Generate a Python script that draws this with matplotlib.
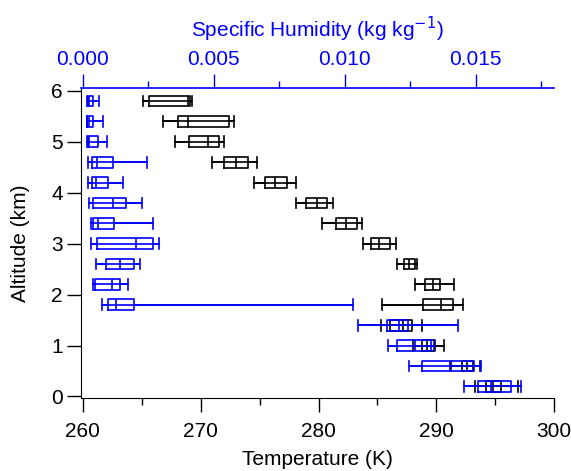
import matplotlib
matplotlib.use("Agg")
import matplotlib.pyplot as plt

plt.rcParams['font.family'] = ['Liberation Sans', 'DejaVu Sans']

altitude = [0.2, 0.6, 1.0, 1.4, 1.8, 2.2, 2.6, 3.0, 3.4, 3.8, 4.2, 4.6, 5.0, 5.4, 5.8]

# Temperature (K) box statistics per altitude
t_min = [293.3, 291.2, 288.0, 285.30, 285.36, 288.18, 286.63, 283.80, 280.3, 278.1, 274.55, 270.94, 267.83, 266.84, 265.14]
t_q1  = [294.2, 292.15, 288.75, 286.06, 288.89, 289.03, 287.25, 284.43, 281.5, 278.9, 275.46, 272.01, 269.02, 268.11, 265.65]
t_med = [294.8, 292.6, 289.2, 287.14, 290.36, 289.69, 287.70, 285.16, 282.3, 279.9, 276.31, 273.00, 270.65, 268.91, 268.96]
t_q3  = [295.5, 293.13, 289.88, 287.96, 291.43, 290.31, 288.18, 286.06, 283.3, 280.7, 277.30, 274.05, 271.59, 272.41, 269.10]
t_max = [296.9, 293.70, 290.67, 288.75, 292.23, 291.52, 288.33, 286.57, 283.7, 281.2, 278.09, 274.76, 271.98, 272.86, 269.25]

# Specific humidity (kg/kg) box statistics per altitude
q_min = [0.01457, 0.01247, 0.01167, 0.01052, 0.00073, 0.00038, 0.00050, 0.00031, 0.00031, 0.00023, 0.00021, 0.00021, 0.000176, 0.000176, 0.000153]
q_q1  = [0.01507, 0.01296, 0.01200, 0.01162, 0.00098, 0.00047, 0.00088, 0.00054, 0.00041, 0.00041, 0.000345, 0.000345, 0.00019, 0.00018, 0.000184]
q_med = [0.01558, 0.01400, 0.01267, 0.01209, 0.00126, 0.00111, 0.00143, 0.00204, 0.00060, 0.00115, 0.00051, 0.00056, 0.00025, 0.00025, 0.000253]
q_q3  = [0.01634, 0.01495, 0.01331, 0.01241, 0.00197, 0.00143, 0.00197, 0.00268, 0.00120, 0.00165, 0.00098, 0.00117, 0.00060, 0.00041, 0.000395]
q_max = [0.01673, 0.01522, 0.01340, 0.01433, 0.01030, 0.00171, 0.00220, 0.00292, 0.00267, 0.00226, 0.00152, 0.00247, 0.00092, 0.00079, 0.000636]

x_ticks = [260, 270, 280, 290, 300]
x_minor = [265, 275, 285, 295]
q_ticks = [0.000, 0.005, 0.010, 0.015]
q_tick_labels = ["0.000", "0.005", "0.010", "0.015"]
q_minor = [0.0025, 0.0075, 0.0125, 0.0175]
y_ticks = [0, 1, 2, 3, 4, 5, 6]

BLUE = "#0000ff"
W = 0.21
LW = 1.2
FS = 15

fig = plt.figure(figsize=(5.71, 4.71), dpi=100)
ax = fig.add_axes([80.7/571, 1-398/471, (554.3-80.7)/571, (398-88.3)/471])

xmin_t = 259.83
ax.set_xlim(xmin_t, 300)
ax.set_ylim(-0.03, 6.05)


def stats(lo, q1, med, q3, hi):
    return [dict(whislo=a, q1=b, med=c, q3=d, whishi=e, fliers=[])
            for a, b, c, d, e in zip(lo, q1, med, q3, hi)]


def draw(axis, st, lo, hi, color):
    props = dict(color=color, linewidth=LW)
    axis.bxp(st, positions=altitude, widths=W, capwidths=W, orientation='horizontal',
             showfliers=False, manage_ticks=False,
             boxprops=props, whiskerprops=props, capprops=props, medianprops=props)
    axis.hlines(altitude, lo, hi, colors=color, linewidth=LW)


draw(ax, stats(t_min, t_q1, t_med, t_q3, t_max), t_min, t_max, "black")

ax.set_xticks(x_ticks)
ax.set_xticks(x_minor, minor=True)
ax.set_yticks(y_ticks)
ax.tick_params(axis='x', which='major', direction='out', length=10, width=1, labelsize=FS, pad=7.5)
ax.tick_params(axis='x', which='minor', direction='out', length=5, width=1)
ax.tick_params(axis='y', which='major', direction='out', length=10, width=1, labelsize=FS, pad=3)
ax.set_xlabel("Temperature (K)", fontsize=FS, labelpad=6)
ax.set_ylabel("Altitude (km)", fontsize=FS, labelpad=15)
for s in ['right', 'top']:
    ax.spines[s].set_visible(False)

ax2 = ax.twiny()
qmax_lim = 0.018
ax2.set_xlim((xmin_t - 260) / 40 * qmax_lim, qmax_lim)
draw(ax2, stats(q_min, q_q1, q_med, q_q3, q_max), q_min, q_max, BLUE)
ax2.set_xticks(q_ticks)
ax2.set_xticklabels(q_tick_labels)
ax2.set_xticks(q_minor, minor=True)
ax2.tick_params(axis='x', which='major', direction='out', length=10, width=1,
                labelsize=FS, colors=BLUE, pad=4)
ax2.tick_params(axis='x', which='minor', direction='out', length=5, width=1, colors=BLUE)
ax2.set_xlabel("Specific Humidity (kg kg$^{-1}$)", fontsize=FS, color=BLUE, labelpad=9)
for s in ['right', 'left', 'bottom']:
    ax2.spines[s].set_visible(False)
ax2.spines['top'].set_color(BLUE)
ax2.spines['top'].set_linewidth(1.2)

fig.savefig("out.png", dpi=100)
